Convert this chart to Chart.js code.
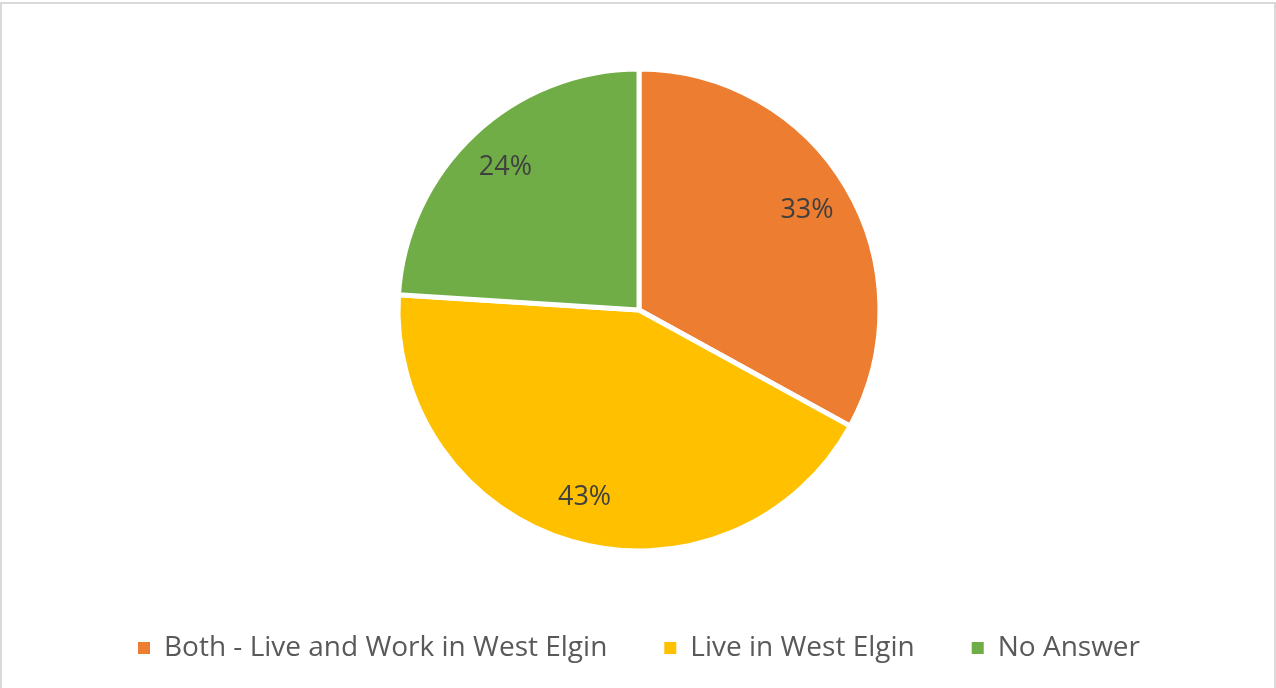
<!DOCTYPE html>
<html>
<head>
<meta charset="utf-8">
<script src="https://cdn.jsdelivr.net/npm/chart.js@4/dist/chart.umd.min.js"></script>
<style>
  html, body { margin: 0; padding: 0; background: #fff; overflow: hidden; }
  #frame {
    position: absolute; left: 0; top: 2px; width: 1272px; height: 700px;
    border: 2px solid #d9d9d9;
  }
  #wrap { position: absolute; left: 0; top: 0; width: 1276px; height: 688px; }
</style>
</head>
<body>
<div id="frame"></div>
<div id="wrap"><canvas id="chart"></canvas></div>
<script>
  'use strict';

  const categories = ['Both - Live and Work in West Elgin', 'Live in West Elgin', 'No Answer'];
  const shares = [33, 43, 24];
  const sliceColors = ['#ED7D31', '#FFC000', '#70AD47'];

  // draws the percentage inside each slice
  const sliceLabels = {
    id: 'sliceLabels',
    afterDatasetsDraw(chart) {
      const ctx = chart.ctx;
      const meta = chart.getDatasetMeta(0);
      const total = shares.reduce((a, b) => a + b, 0);
      ctx.save();
      ctx.font = '27px "Open Sans"';
      ctx.fillStyle = '#404040';
      ctx.textAlign = 'center';
      ctx.textBaseline = 'middle';
      meta.data.forEach((arc, i) => {
        const { x, y, startAngle, endAngle, outerRadius } = arc.getProps(['x', 'y', 'startAngle', 'endAngle', 'outerRadius'], true);
        const mid = (startAngle + endAngle) / 2;
        const r = outerRadius * 0.81;
        const pct = Math.round(shares[i] / total * 100) + '%';
        ctx.fillText(pct, x + Math.cos(mid) * r, y + Math.sin(mid) * r);
      });
      ctx.restore();
    }
  };

  new Chart(document.getElementById('chart'), {
    type: 'pie',
    data: {
      labels: categories,
      datasets: [{
        data: shares,
        backgroundColor: sliceColors,
        borderColor: '#ffffff',
        borderWidth: 5,
        hoverBorderWidth: 5,
        radius: 241
      }]
    },
    options: {
      responsive: true,
      maintainAspectRatio: false,
      animation: false,
      layout: { padding: { top: 43, bottom: 16, left: 2, right: 0 } },
      plugins: {
        tooltip: { enabled: false },
        legend: {
          position: 'bottom',
          labels: {
            boxWidth: 12,
            boxHeight: 12,
            padding: 57,
            color: '#595959',
            font: { family: '"Open Sans"', size: 28 },
            generateLabels(chart) {
              // plain squares, without the white slice border
              return Chart.controllers.pie.overrides.plugins.legend.labels.generateLabels(chart)
                .map(item => Object.assign(item, { lineWidth: 0, strokeStyle: 'rgba(0,0,0,0)' }));
            }
          }
        }
      }
    },
    plugins: [sliceLabels]
  });
</script>
</body>
</html>
